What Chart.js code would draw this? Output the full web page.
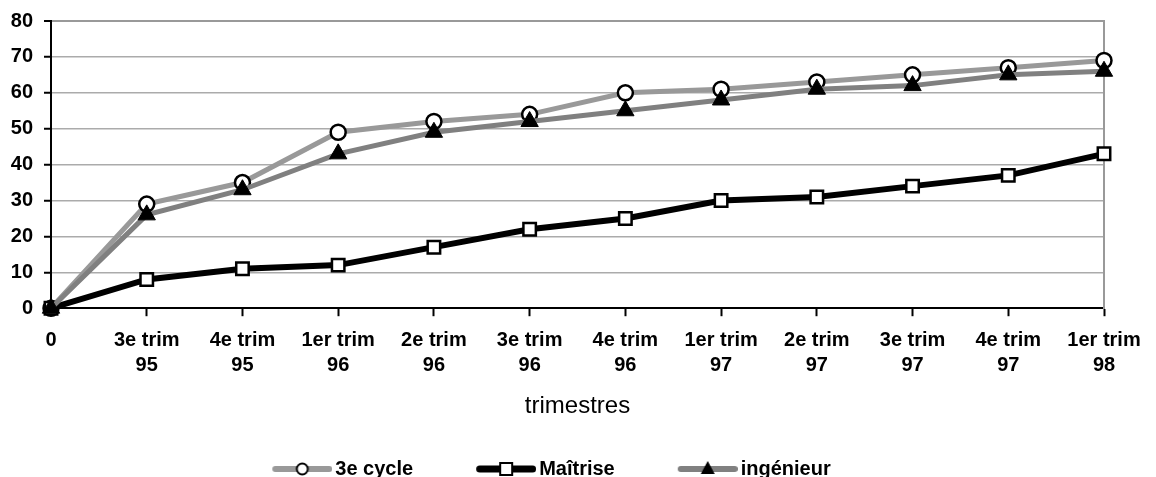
<!DOCTYPE html>
<html lang="fr">
<head>
    <meta charset="UTF-8">
    <title>trimestres</title>
    <script src="https://cdn.jsdelivr.net/npm/chart.js"></script>
    <style>
        html, body { margin: 0; padding: 0; background: #fff; }
        #wrap { width: 1156px; height: 477px; }
    </style>
</head>
<body>
    <div id="wrap"><canvas id="chart"></canvas></div>

    <script>
        // data
        const trimestres = [
            ['0'], ['3e trim', '95'], ['4e trim', '95'], ['1er trim', '96'], ['2e trim', '96'],
            ['3e trim', '96'], ['4e trim', '96'], ['1er trim', '97'], ['2e trim', '97'],
            ['3e trim', '97'], ['4e trim', '97'], ['1er trim', '98']
        ];
        const cycle3    = [0, 29, 35, 49, 52, 54, 60, 61, 63, 65, 67, 69];
        const maitrise  = [0, 8, 11, 12, 17, 22, 25, 30, 31, 34, 37, 43];
        const ingenieur = [0, 26, 33, 43, 49, 52, 55, 58, 61, 62, 65, 66];
        const yTicks    = [0, 10, 20, 30, 40, 50, 60, 70, 80];

        const FONT = "'Liberation Sans', Arial, sans-serif";
        const ICON_W = 78;   // legend box width, line sits on its right
        const LEFT_SHIFT = 26; // legend sits a bit left of centre in the original

        // legend icon: line with the marker in the middle
        function legendIcon(color, width, marker) {
            const c = document.createElement('canvas');
            c.width = ICON_W + 14;
            c.height = 20;
            const g = c.getContext('2d');
            const x0 = c.width - 60, x1 = c.width, cy = 10, mx = c.width - 30;
            g.strokeStyle = color;
            g.lineWidth = width;
            g.lineCap = 'round';
            g.beginPath();
            g.moveTo(x0 + width / 2, cy);
            g.lineTo(x1 - width / 2, cy);
            g.stroke();
            g.lineWidth = 2;
            g.strokeStyle = '#000';
            if (marker === 'circle') {
                g.fillStyle = '#fff';
                g.beginPath();
                g.arc(mx, cy, 5.5, 0, Math.PI * 2);
                g.fill();
                g.stroke();
            } else if (marker === 'rect') {
                g.fillStyle = '#fff';
                g.fillRect(mx - 6, cy - 6, 12, 12);
                g.strokeRect(mx - 6, cy - 6, 12, 12);
            } else {
                g.fillStyle = '#000';
                g.beginPath();
                g.moveTo(mx, cy - 8);
                g.lineTo(mx + 7, cy + 5);
                g.lineTo(mx - 7, cy + 5);
                g.closePath();
                g.fill();
            }
            return c;
        }

        const icons = [
            legendIcon('#999999', 6, 'circle'),
            legendIcon('#000000', 7, 'rect'),
            legendIcon('#808080', 6, 'triangle')
        ];

        const ctx = document.getElementById('chart').getContext('2d');

        new Chart(ctx, {
            type: 'line',
            data: {
                labels: trimestres,
                datasets: [
                    {
                        label: '3e cycle',
                        data: cycle3,
                        borderColor: '#999999',
                        borderWidth: 5,
                        pointStyle: 'circle',
                        pointRadius: 7.5,
                        pointBackgroundColor: '#ffffff',
                        pointBorderColor: '#000000',
                        pointBorderWidth: 2.5,
                        order: 2
                    },
                    {
                        label: 'Maîtrise',
                        data: maitrise,
                        borderColor: '#000000',
                        borderWidth: 6,
                        pointStyle: 'rect',
                        pointRadius: 8.8,
                        pointBackgroundColor: '#ffffff',
                        pointBorderColor: '#000000',
                        pointBorderWidth: 2.5,
                        order: 1
                    },
                    {
                        label: 'ingénieur',
                        data: ingenieur,
                        borderColor: '#808080',
                        borderWidth: 5,
                        pointStyle: 'triangle',
                        pointRadius: 10,
                        pointBackgroundColor: '#000000',
                        pointBorderColor: '#000000',
                        pointBorderWidth: 1,
                        order: 0
                    }
                ]
            },
            options: {
                responsive: true,
                maintainAspectRatio: false,
                animation: false,
                clip: false,
                elements: { line: { tension: 0 } },
                layout: { padding: { top: 13, left: -LEFT_SHIFT, right: 52, bottom: 0 } },
                plugins: {
                    tooltip: { enabled: false },
                    legend: {
                        position: 'bottom',
                        maxHeight: 56,
                        labels: {
                            usePointStyle: true,
                            pointStyleWidth: ICON_W,
                            padding: 38,
                            color: '#000',
                            font: { family: FONT, size: 20, weight: 'bold' },
                            generateLabels: (chart) => chart.data.datasets.map((ds, i) => ({
                                text: ds.label,
                                pointStyle: icons[i],
                                datasetIndex: i,
                                fillStyle: ds.borderColor,
                                strokeStyle: ds.borderColor,
                                lineWidth: 0,
                                fontColor: '#000'
                            }))
                        }
                    }
                },
                scales: {
                    x: {
                        offset: false,
                        grid: {
                            drawOnChartArea: false,
                            drawTicks: true,
                            tickLength: 8,
                            tickColor: '#000',
                            tickWidth: 2
                        },
                        border: { color: '#000', width: 2 },
                        ticks: {
                            autoSkip: false,
                            maxRotation: 0,
                            padding: 12,
                            color: '#000',
                            font: { family: FONT, size: 20, weight: 'bold', lineHeight: 1.25 }
                        },
                        title: {
                            display: true,
                            text: 'trimestres',
                            color: '#000',
                            padding: { top: 2, bottom: 0 },
                            font: { family: FONT, size: 24, lineHeight: 1.2 }
                        }
                    },
                    y: {
                        min: 0,
                        max: 80,
                        afterFit: (scale) => { scale.width = 51 + LEFT_SHIFT; },
                        afterBuildTicks: (scale) => { scale.ticks = yTicks.map(v => ({ value: v })); },
                        grid: {
                            color: (c) => c.tick && c.tick.value === 80 ? '#999999' : '#ababab',
                            lineWidth: (c) => c.tick && c.tick.value === 80 ? 2 : 1.5,
                            drawTicks: true,
                            tickLength: 7,
                            tickColor: '#000',
                            tickWidth: 2
                        },
                        border: { color: '#000', width: 2 },
                        ticks: {
                            padding: 11,
                            color: '#000',
                            font: { family: FONT, size: 20, weight: 'bold', lineHeight: 1 }
                        }
                    },
                    y2: {
                        position: 'right',
                        min: 0,
                        max: 80,
                        grid: { drawOnChartArea: false, drawTicks: false },
                        border: { color: '#999999', width: 2 },
                        ticks: { display: false }
                    }
                }
            }
        });
    </script>
</body>
</html>
